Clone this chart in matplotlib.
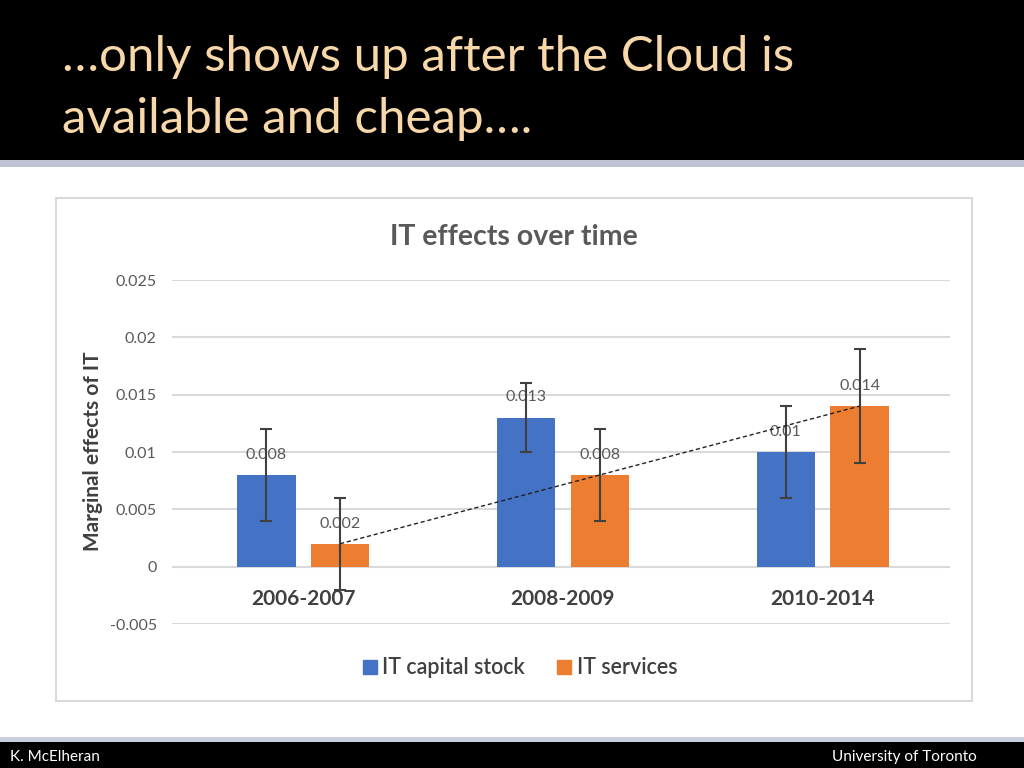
import numpy as np
import matplotlib
matplotlib.use("Agg")
import matplotlib.pyplot as plt
from matplotlib.patches import Rectangle
from matplotlib.lines import Line2D

plt.rcParams['font.family'] = ['Lato', 'DejaVu Sans']

# data
periods = ["2006-2007", "2008-2009", "2010-2014"]
capital = [0.008, 0.013, 0.010]
capital_err = [0.004, 0.003, 0.004]
services = [0.002, 0.008, 0.014]
services_err = [0.004, 0.004, 0.005]
cap_labels = ["0.008", "0.013", "0.01"]
serv_labels = ["0.002", "0.008", "0.014"]
yticks = [-0.005, 0, 0.005, 0.01, 0.015, 0.02, 0.025]
ytick_labels = ["-0.005", "0", "0.005", "0.01", "0.015", "0.02", "0.025"]

blue = "#4472C4"
orange = "#ED7D31"
peach = "#F8D7A8"
grid_col = "#D9D9D9"
txt_col = "#595959"
dark_txt = "#404040"

W, H = 1024, 768
fig = plt.figure(figsize=(10.24, 7.68), dpi=100)
fig.patch.set_facecolor("white")

def fy(py):
    return 1 - py / H

# slide header / footer
fig.patches.append(Rectangle((0, fy(160)), 1, 160 / H, transform=fig.transFigure,
                             facecolor="black", edgecolor="none", zorder=-2))
fig.patches.append(Rectangle((0, fy(167)), 1, 7 / H, transform=fig.transFigure,
                             facecolor="#BEC2D4", edgecolor="none", zorder=-2))
fig.patches.append(Rectangle((0, fy(742)), 1, 5 / H, transform=fig.transFigure,
                             facecolor="#C9CEDC", edgecolor="none", zorder=-2))
fig.patches.append(Rectangle((0, 0), 1, 26 / H, transform=fig.transFigure,
                             facecolor="black", edgecolor="none", zorder=-2))

fig.text(62 / W, fy(57), "…only shows up after the Cloud is", color=peach,
         fontsize=35.5, va="center", ha="left")
fig.text(62 / W, fy(119), "available and cheap….", color=peach,
         fontsize=35.5, va="center", ha="left")
fig.text(10 / W, fy(757), "K. McElheran", color="white", fontsize=11,
         va="center", ha="left")
fig.text(977 / W, fy(757), "University of Toronto", color="white", fontsize=11,
         va="center", ha="right")

# chart frame
fig.patches.append(Rectangle((56 / W, fy(701)), (972 - 56) / W, (701 - 198) / H,
                             transform=fig.transFigure, facecolor="white",
                             edgecolor="#D9D9D9", linewidth=1.5, zorder=-1))

ax = fig.add_axes([172 / W, fy(624), (950 - 172) / W, (624 - 280) / H])
ax.set_zorder(3)
ax.set_facecolor("none")
x = np.arange(len(periods))
bw = 0.225
off = 0.142

ax.bar(x - off, capital, bw, color=blue, zorder=2)
ax.bar(x + off, services, bw, color=orange, zorder=2)
ax.errorbar(x - off, capital, yerr=capital_err, fmt="none", ecolor=dark_txt,
            elinewidth=1.5, capsize=4, capthick=1.5, zorder=4)
ax.errorbar(x + off, services, yerr=services_err, fmt="none", ecolor=dark_txt,
            elinewidth=1.5, capsize=4, capthick=1.5, zorder=4)

# linear trendline on IT services
coef = np.polyfit(x, services, 1)
ax.plot(x + off, np.polyval(coef, x), color="#222222", linestyle=(0, (3, 2)),
        linewidth=1, zorder=5)

for xi, v, lab in zip(x - off, capital, cap_labels):
    ax.annotate(lab, (xi, v), xytext=(0, 14.5), textcoords="offset points",
                ha="center", va="center", fontsize=11.5, color=txt_col, zorder=3)
for xi, v, lab in zip(x + off, services, serv_labels):
    ax.annotate(lab, (xi, v), xytext=(0, 14.5), textcoords="offset points",
                ha="center", va="center", fontsize=11.5, color=txt_col, zorder=3)

ax.set_xlim(-0.505, 2.49)
ax.set_ylim(-0.005, 0.025)
ax.set_yticks(yticks)
ax.set_yticklabels(ytick_labels, fontsize=11.5, color=txt_col)
ax.set_xticks([])
ax.tick_params(axis="y", length=0, pad=11)
ax.grid(axis="y", color=grid_col, linewidth=1.5, zorder=0)
ax.set_axisbelow(True)
for s in ax.spines.values():
    s.set_visible(False)

for xi, p in zip(x, periods):
    ax.annotate(p, (xi, 0), xytext=(0, -23), textcoords="offset points",
                ha="center", va="center", fontsize=15, fontweight="bold",
                color=dark_txt)

ax.set_ylabel("Marginal effects of IT", fontsize=15, fontweight="bold",
              color=dark_txt)
ax.yaxis.set_label_coords(-0.089, 0.503)

fig.text(514 / W, fy(237), "IT effects over time", fontsize=20.5,
         fontweight="bold", color=txt_col, ha="center", va="center")

handles = [Line2D([], [], marker="s", linestyle="none", markersize=10,
                  markerfacecolor=blue, markeredgecolor=blue),
           Line2D([], [], marker="s", linestyle="none", markersize=10,
                  markerfacecolor=orange, markeredgecolor=orange)]
fig.legend(handles, ["IT capital stock", "IT services"], loc="center",
           bbox_to_anchor=(517 / W, fy(668)), ncol=2, frameon=False,
           labelcolor=dark_txt, handletextpad=0.0, handlelength=1.2,
           columnspacing=1.2, prop={"weight": "semibold", "size": 15.5})

fig.savefig("out.png", dpi=100)
